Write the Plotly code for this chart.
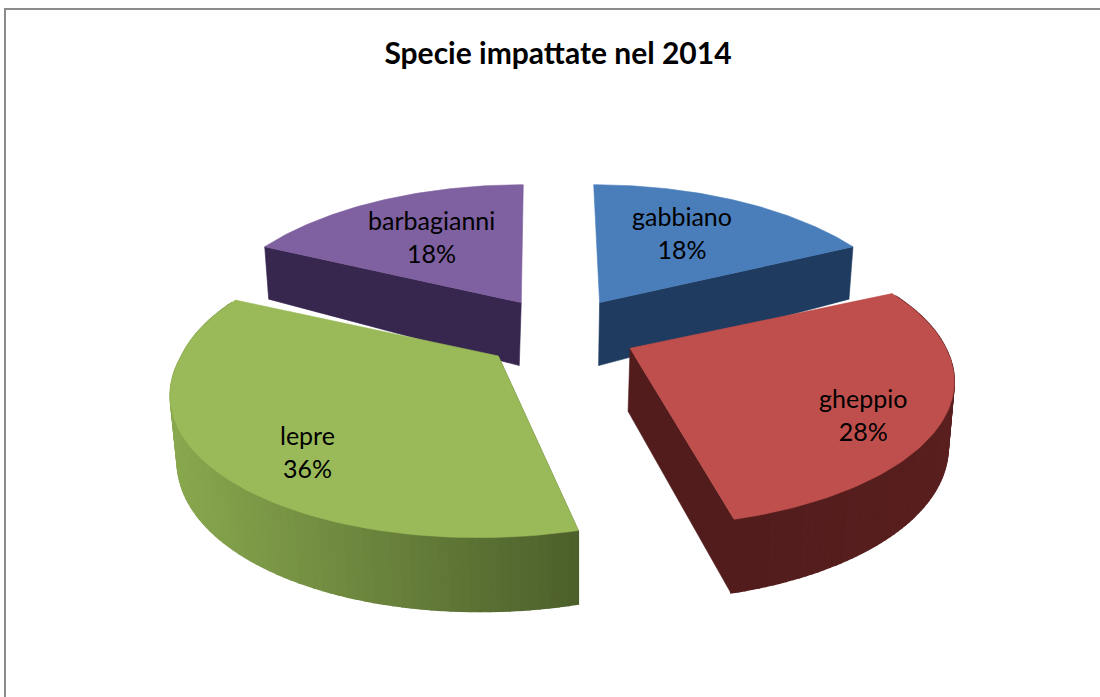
import numpy as np
import plotly.graph_objects as go

# ---- data ----
categories = ["gabbiano", "gheppio", "lepre", "barbagianni"]
percentages = [18, 28, 36, 18]
title_text = "Specie impattate nel 2014"

# ---- styling / projection settings ----
W, H = 1100, 697
X0, Y0 = 561.0, 333.0      # pie centre on the canvas
RX, RY = 320.0, 143.0      # radii of the pie's projected ellipse
PERSP = 0.213              # foreshortening front/back
EXPL_X, EXPL_Y = 72.0, 36.0
TOP_COL = ["#4a7ebb", "#be4f4c", "#9aba59", "#7f60a0"]
WALL_L = ["#1f3b60", "#521c1c", "#89a84e", "#37274f"]  # colour at the left end of a wall
WALL_R = ["#1f3b60", "#5a1f1f", "#4c5f2b", "#37274f"]  # colour at the right end
EXPL_KX = [1.0, 1.06, 1.13, 1.03]
EXPL_KY = [1.0, 1.0, 1.0, 1.0]
SCALE_X = [0.965, 0.987, 0.99, 0.97]
SCALE_Y = [1.0, 0.98, 1.0, 1.0]
SHEAR_BACK = [0.05, 0.0, 0.0, -0.017]
SHEAR_FRONT = [0.0, 0.03, -0.11, 0.0]
VANISH = [515, 470, 580, 435]
CONV = [0.0118, 0.0124, 0.017, 0.0233]
LABEL_XY = [(682, 232), (863, 414), (307, 451), (431, 236)]
DRAW_ORDER = [0, 3, 1, 2]
FONT = "Lato, Carlito, Calibri, sans-serif"
N_STRIPS = 90


def hex_rgb(c):
    return np.array([int(c[i:i + 2], 16) for i in (1, 3, 5)], dtype=float)


def mix(a, b, f):
    r = hex_rgb(a) * (1 - f) + hex_rgb(b) * f
    return "rgb(%d,%d,%d)" % tuple(r.round())


fracs = np.array(percentages, dtype=float) / sum(percentages)
edges = np.concatenate([[0], np.cumsum(fracs)]) * 2 * np.pi

fig = go.Figure()


def poly(xs, ys, col, lw=0.6):
    fig.add_trace(go.Scatter(x=list(xs), y=list(ys), mode="lines", fill="toself",
                             fillcolor=col, line=dict(color=col, width=lw),
                             hoverinfo="skip", showlegend=False))


for i in DRAW_ORDER:
    t0, t1 = edges[i], edges[i + 1]
    mid = (t0 + t1) / 2
    ax = X0 + EXPL_X * EXPL_KX[i] * np.sin(mid)
    ay = Y0 - EXPL_Y * EXPL_KY[i] * np.cos(mid)

    def top(t):
        u, v = np.sin(t), -np.cos(t)
        d = 1 - PERSP * v
        y = ay + SCALE_Y[i] * RY * v / d
        dy = y - ay
        shear = SHEAR_BACK[i] * np.minimum(dy, 0) + SHEAR_FRONT[i] * np.maximum(dy, 0)
        x = ax + SCALE_X[i] * RX * u / d + shear
        return x, y

    def bottom(x, y, v):
        depth = np.interp(v, [-1, 0, 1], [38, 63, 74])
        return x + (VANISH[i] - x) * CONV[i], y + depth

    ts = np.linspace(t0, t1, N_STRIPS + 1)
    tx, ty = top(ts)
    vs = -np.cos(ts)
    bx, by = bottom(tx, ty, vs)
    apx, apy = bottom(ax, ay, 0.0)

    # the radial wall facing the viewer: the edge that lies nearer the front
    if vs[0] > vs[-1]:
        poly([ax, tx[0], bx[0], apx, ax], [ay, ty[0], by[0], apy, ay], WALL_R[i])
    else:
        poly([ax, tx[-1], bx[-1], apx, ax], [ay, ty[-1], by[-1], apy, ay], WALL_L[i])

    # outer wall, in shaded strips, only on the front half of the rim
    lo, hi = tx.min(), tx.max()
    for k in range(N_STRIPS):
        if vs[k] < -0.4 and vs[k + 1] < -0.4:
            continue
        f = ((tx[k] + tx[k + 1]) / 2 - lo) / (hi - lo)
        poly([tx[k], tx[k + 1], bx[k + 1], bx[k], tx[k]],
             [ty[k], ty[k + 1], by[k + 1], by[k], ty[k]], mix(WALL_L[i], WALL_R[i], f), lw=1.4)

    # top face
    poly([ax, *tx, ax], [ay, *ty, ay], TOP_COL[i])

annotations = [
    dict(x=px, y=py, xref="x", yref="y", showarrow=False, align="center",
         text=f"{c}<br>{p}%", font=dict(family=FONT, size=25, color="#000000"))
    for c, p, (px, py) in zip(categories, percentages, LABEL_XY)
]

fig.update_layout(
    width=W, height=H, margin=dict(l=0, r=0, t=0, b=0),
    paper_bgcolor="white", plot_bgcolor="white", showlegend=False,
    title=dict(text=f"<b>{title_text}</b>", x=558 / W, y=1 - 53 / H, xanchor="center",
               yanchor="middle", font=dict(family=FONT, size=30, color="black")),
    xaxis=dict(range=[0, W], visible=False, fixedrange=True),
    yaxis=dict(range=[H, 0], visible=False, fixedrange=True),
    annotations=annotations,
    shapes=[dict(type="path", path=f"M 5 {H} L 5 9 L {W} 9", xref="x", yref="y",
                 line=dict(color="#8c8c8c", width=2))],
)

fig.write_html("out.html", config=dict(displayModeBar=False),
               post_script="document.body.style.margin='0';document.body.style.overflow='hidden';")
